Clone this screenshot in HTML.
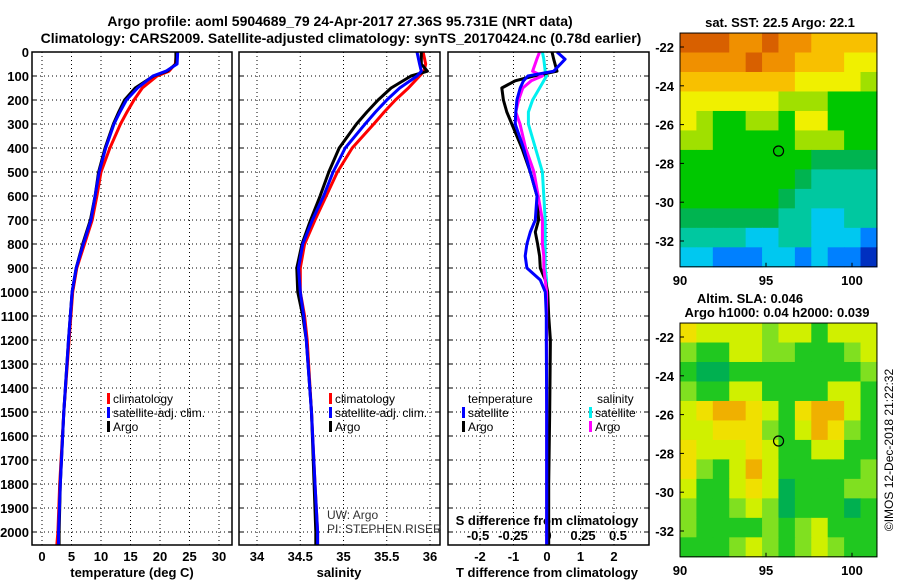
<!DOCTYPE html>
<html><head><meta charset="utf-8"><style>
body{margin:0;background:#fff}
svg{display:block;font-family:"Liberation Sans",sans-serif}
.b{font-weight:bold;font-size:13px}
</style></head><body>
<svg id="c" width="900" height="580" viewBox="0 0 900 580" xmlns="http://www.w3.org/2000/svg">
<text x="340" y="26" text-anchor="middle" font-size="14" font-weight="bold">Argo profile: aoml 5904689_79 24-Apr-2017 27.36S 95.731E (NRT data)</text>
<text x="341" y="43" text-anchor="middle" font-size="14" font-weight="bold">Climatology: CARS2009. Satellite-adjusted climatology: synTS_20170424.nc (0.78d earlier)</text>
<g id="g"></g>
</svg>
<script>
const depths=[0,50,80,100,150,200,250,300,400,500,600,700,800,900,1000,1100,1200,1500,1800,2000,2054];
const tClim=[22.8,22.6,21.5,19.5,17.0,15.6,14.4,13.3,11.5,10.0,9.3,8.5,7.2,5.9,5.2,4.9,4.6,3.7,3.0,2.7,2.5];
const tSat=[23.0,22.9,21.0,18.8,16.2,14.3,13.2,12.2,10.8,9.7,9.0,8.3,7.0,5.8,5.1,4.8,4.5,3.7,3.1,2.8,2.8];
const tArgo=[22.7,22.7,21.2,18.9,15.8,14.0,13.0,12.1,10.7,9.6,9.0,8.2,6.9,5.8,5.1,4.8,4.5,3.7,3.1,2.9,2.9];
const sClim=[35.92,35.95,35.93,35.88,35.75,35.6,35.47,35.35,35.1,34.93,34.8,34.67,34.55,34.5,34.5,34.55,34.58,34.63,34.67,34.7,34.7];
const sSat=[35.85,35.88,35.9,35.85,35.65,35.5,35.37,35.25,35.02,34.88,34.77,34.64,34.53,34.48,34.5,34.54,34.57,34.63,34.67,34.7,34.7];
const sArgo=[35.9,35.9,35.97,35.78,35.55,35.4,35.27,35.15,34.95,34.83,34.73,34.62,34.52,34.46,34.47,34.53,34.57,34.63,34.66,34.68,34.68];
const dDepths=[0,30,80,100,120,150,200,250,300,400,500,600,700,750,800,850,900,950,1000,1100,1200,1500,1800,2054];
const dTSat=[0.3,0.54,0.2,-0.57,-0.7,-0.8,-0.9,-0.93,-0.95,-0.7,-0.5,-0.3,-0.35,-0.5,-0.6,-0.65,-0.6,-0.2,-0.05,-0.02,-0.02,-0.01,-0.01,-0.01];
const dTArgo=[0.15,0.2,0.3,-0.4,-0.95,-1.35,-1.3,-1.2,-1.05,-0.75,-0.5,-0.3,-0.25,-0.35,-0.28,-0.22,-0.2,-0.05,0.02,0.05,0.1,0.08,0.05,0.05];
const dSSat=[-0.04,-0.03,-0.02,-0.01,-0.03,-0.06,-0.11,-0.14,-0.14,-0.09,-0.04,-0.03,-0.02,-0.02,-0.02,-0.02,-0.02,-0.01,-0.01,-0.01,-0.01,-0.01,-0.01,-0.01];
const dSArgo=[-0.06,-0.08,-0.11,-0.04,-0.12,-0.18,-0.21,-0.23,-0.2,-0.16,-0.1,-0.07,-0.04,-0.04,-0.04,-0.03,-0.03,-0.02,-0.01,-0.01,-0.01,-0.01,-0.01,-0.01];
const depthTicks=[0,100,200,300,400,500,600,700,800,900,1000,1100,1200,1300,1400,1500,1600,1700,1800,1900,2000];
const tTicks=[0,5,10,15,20,25,30];
const sTicks=[34,34.5,35,35.5,36];
const dtTicks=[-2,-1,0,1,2];
const dsTicks=[-0.5,-0.25,0,0.25,0.5];
const sstColors=["#0030c0","#0080ff","#00c8f0","#00c8a0","#00b450","#00c800","#a0e000","#f0f000","#f8c000","#f09000","#d86000"];
const sst=[
[10,10,10,9,9,10,9,9,8,8,8,8],[9,9,9,9,10,9,9,8,8,8,7,7],[8,8,8,8,8,8,8,7,7,7,7,6],[7,7,7,7,7,7,6,6,6,5,5,5],
[7,6,5,5,6,6,5,7,7,5,5,5],[6,6,5,5,5,5,5,6,6,6,5,5],[5,5,5,5,5,5,5,5,4,4,4,4],[5,5,5,5,5,5,5,4,3,3,3,3],
[5,5,5,5,5,5,4,3,3,3,3,3],[4,4,4,4,4,4,3,3,2,2,3,3],[3,3,3,3,2,2,3,3,2,2,2,1],[2,2,1,1,1,2,2,1,2,1,1,0]];
const slaColors=["#00b050","#20c820","#80e020","#d0f000","#f0e000","#f0b000","#f09000"];
const sla=[
[4,3,3,3,3,2,3,3,1,3,3,3],[2,1,1,3,3,2,2,1,1,1,2,3],[1,0,0,1,1,1,1,1,1,1,1,2],[2,1,1,3,3,1,1,1,1,3,3,1],
[3,4,5,5,4,3,1,4,5,5,3,1],[3,3,4,4,4,2,1,3,5,4,2,1],[4,3,3,3,4,3,1,1,3,3,1,1],[4,2,1,3,5,3,1,1,1,1,1,2],
[3,1,1,3,4,3,0,1,1,1,2,2],[2,1,1,2,3,2,0,1,1,1,0,1],[2,1,1,1,1,2,1,2,3,1,1,1],[1,1,1,2,3,2,1,2,3,2,1,1]];
const latTicks=[-22,-24,-26,-28,-30,-32];
const lonTicks=[90,95,100];
const argoLon=95.73, argoLat=-27.36;

const G=document.getElementById('g');
const NS="http://www.w3.org/2000/svg";
function el(tag,attrs,txt){const e=document.createElementNS(NS,tag);for(const k in attrs)e.setAttribute(k,attrs[k]);if(txt!==undefined)e.textContent=txt;G.appendChild(e);return e;}
const Y=d=>52+d*0.24;
const P=[{x0:32,x1:232},{x0:239,x1:440},{x0:448,x1:649}];
const XT=t=>42+t*5.9, XS=s=>257+(s-34)*86.5, XDT=v=>547+v*33.5, XDS=v=>548+v*140;
const pTop=52,pBot=545;
P.forEach((p,i)=>{
  depthTicks.forEach(d=>{let l=el('line',{x1:p.x0,x2:p.x1,y1:Y(d),y2:Y(d),stroke:'#000','stroke-width':1,'stroke-dasharray':'1,3'});
    
    let t1=el('line',{x1:p.x0,x2:p.x0+4,y1:Y(d),y2:Y(d),stroke:'#000'});
    let t2=el('line',{x1:p.x1-4,x2:p.x1,y1:Y(d),y2:Y(d),stroke:'#000'});});
  const xs=i==0?tTicks.map(XT):i==1?sTicks.map(XS):dtTicks.map(XDT);
  xs.forEach(x=>{let l=el('line',{x1:x,x2:x,y1:pTop,y2:pBot,stroke:'#000','stroke-dasharray':'1,3'});});
});
depthTicks.forEach(d=>{let t=el('text',{x:29,y:Y(d)+5,'text-anchor':'end',class:'b'},d);});
[[tTicks,XT],[sTicks,XS],[dtTicks,XDT]].forEach(a=>a[0].forEach(v=>{let t=el('text',{x:a[1](v),y:561,'text-anchor':'middle',class:'b'},v);}));
dsTicks.forEach(v=>{let t=el('text',{x:XDS(v),y:540,'text-anchor':'middle',class:'b'},v);});
[['temperature (deg C)',132],['salinity',339],['T difference from climatology',547]].forEach(a=>{let t=el('text',{x:a[1],y:577,'text-anchor':'middle',class:'b'},a[0]);});
let st=el('text',{x:547,y:525,'text-anchor':'middle',class:'b'},'S difference from climatology');
function line(ds,vs,fx,col,name,w){const pts=ds.map((d,i)=>fx(vs[i]).toFixed(1)+','+Y(d).toFixed(1)).join(' ');
  let l=el('polyline',{points:pts,fill:'none',stroke:col,'stroke-width':w||3,'stroke-linejoin':'round'});}
line(depths,tClim,XT,'#f00','temp-climatology-line');line(depths,tArgo,XT,'#000','temp-argo-line');line(depths,tSat,XT,'#00f','temp-satellite-line');
line(depths,sClim,XS,'#f00','sal-climatology-line');line(depths,sArgo,XS,'#000','sal-argo-line');line(depths,sSat,XS,'#00f','sal-satellite-line');
line(dDepths,dSSat,XDS,'#00f0f0','sdiff-satellite-line');line(dDepths,dTArgo,XDT,'#000','tdiff-argo-line');line(dDepths,dSArgo,XDS,'#f0f','sdiff-argo-line');line(dDepths,dTSat,XDT,'#00f','tdiff-satellite-line');
P.forEach(p=>{let r=el('rect',{x:p.x0,y:pTop,width:p.x1-p.x0,height:pBot-pTop,fill:'none',stroke:'#000','stroke-width':1.5});});
function leg(x,y,col,txt){let m=el('rect',{x:x-6,y:y-10,width:3,height:11,fill:col});
  let t=el('text',{x:x,y:y,'font-size':12},txt);}
[[113,'#f00','climatology',403],[113,'#00f','satellite-adj. clim.',417],[113,'#000','Argo',431]].forEach(a=>leg(a[0],a[3],a[1],a[2]));
[[335,'#f00','climatology',403],[335,'#00f','satellite-adj. clim.',417],[335,'#000','Argo',431]].forEach(a=>leg(a[0],a[3],a[1],a[2]));
let lt=el('text',{x:468,y:403,'font-size':12},'temperature');
let ls=el('text',{x:597,y:403,'font-size':12},'salinity');
leg(468,417,'#00f','satellite');leg(468,431,'#000','Argo');leg(595,417,'#00f0f0','satellite');leg(595,431,'#f0f','Argo');
let u1=el('text',{x:327,y:519,'font-size':12,fill:'#333'},'UW: Argo');
let u2=el('text',{x:327,y:533,'font-size':12,fill:'#333'},'PI: STEPHEN RISER');
const MX=lon=>680+(lon-90)*17.2;
function map(y0,data,cols,name){const MY=lat=>y0+14+(-22-lat)*19.4;
  const lonL=90,lonR=101.45,latT=-21.28,latB=-33.33;const nr=data.length,nc=data[0].length;
  const cw=(MX(lonR)-MX(lonL))/nc,ch=(MY(latB)-MY(latT))/nr;
  data.forEach((row,r)=>row.forEach((v,c)=>{let e=el('rect',{x:(MX(lonL)+c*cw).toFixed(2),y:(MY(latT)+r*ch).toFixed(2),width:(cw+0.6).toFixed(2),height:(ch+0.6).toFixed(2),fill:cols[v]});
    }));
  let f=el('rect',{x:MX(lonL),y:MY(latT),width:MX(lonR)-MX(lonL),height:MY(latB)-MY(latT),fill:'none',stroke:'#000'});
  latTicks.forEach(l=>{let t=el('text',{x:674,y:MY(l)+5,'text-anchor':'end',class:'b'},l);
    let k=el('line',{x1:MX(lonL),x2:MX(lonL)+4,y1:MY(l),y2:MY(l),stroke:'#000'});});
  lonTicks.forEach(l=>{let t=el('text',{x:MX(l),y:MY(latB)+18,'text-anchor':'middle',class:'b'},l);
    let k=el('line',{x1:MX(l),x2:MX(l),y1:MY(latB),y2:MY(latB)-4,stroke:'#000'});});
  let c=el('circle',{cx:MX(argoLon),cy:MY(argoLat),r:5,fill:'none',stroke:'#000','stroke-width':1.2});
}
map(33,sst,sstColors,'sst-map');map(323,sla,slaColors,'sla-map');
let m1=el('text',{x:780,y:27,'text-anchor':'middle',class:'b'},'sat. SST: 22.5 Argo: 22.1');
let m2=el('text',{x:750,y:303,'text-anchor':'middle',class:'b'},'Altim. SLA: 0.046');
let m3=el('text',{x:777,y:317,'text-anchor':'middle',class:'b'},'Argo h1000: 0.04 h2000: 0.039');
let cp=el('text',{x:0,y:0,'font-size':12,'text-anchor':'middle',transform:'translate(893,450) rotate(-90)'},'©IMOS 12-Dec-2018 21:22:32');
</script>
</body></html>
